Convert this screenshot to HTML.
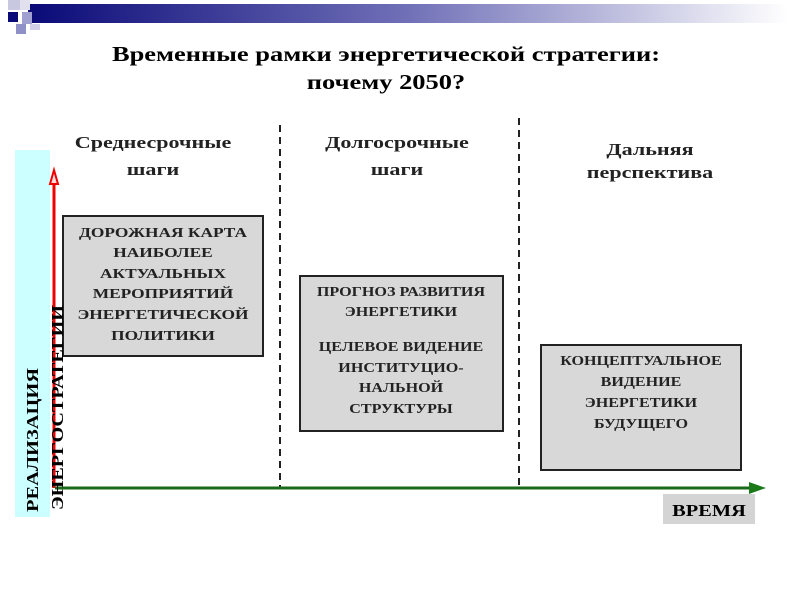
<!DOCTYPE html>
<html><head><meta charset="utf-8"><style>
body{margin:0;width:800px;height:600px;background:#fff;overflow:hidden}
</style></head><body>
<svg width="800" height="600" xmlns="http://www.w3.org/2000/svg" font-family="Liberation Serif, serif" font-weight="bold">
<defs><linearGradient id="g" x1="0" x2="1"><stop offset="0" stop-color="#0a0a78"/><stop offset="0.5" stop-color="#7070b8"/><stop offset="1" stop-color="#ffffff"/></linearGradient></defs>
<rect x="28" y="4" width="760" height="19" fill="url(#g)"/>
<rect x="8" y="0" width="12" height="10" fill="#c8c8e0"/>
<rect x="20" y="0" width="10" height="10" fill="#e0e0ee"/>
<rect x="8" y="12" width="10" height="10" fill="#0a0a78"/>
<rect x="22" y="12" width="10" height="12" fill="#a0a0d0"/>
<rect x="16" y="24" width="10" height="10" fill="#9090c8"/>
<rect x="30" y="24" width="10" height="6" fill="#d0d0e8"/>
<g transform="translate(386,0) scale(1.26,1) translate(-386,0)">
<text x="386" y="61" font-size="21" text-anchor="middle">Временные рамки энергетической стратегии:</text>
<text x="386" y="89" font-size="21" text-anchor="middle">почему 2050?</text>
</g>
<g font-size="17" text-anchor="middle" fill="#222">
<g transform="translate(153,0) scale(1.3,1) translate(-153,0)"><text x="153" y="148">Среднесрочные</text><text x="153" y="175">шаги</text></g>
<g transform="translate(397,0) scale(1.3,1) translate(-397,0)"><text x="397" y="148">Долгосрочные</text><text x="397" y="175">шаги</text></g>
<g transform="translate(650,0) scale(1.3,1) translate(-650,0)"><text x="650" y="155">Дальняя</text><text x="650" y="178">перспектива</text></g>
</g>
<rect x="15" y="150" width="35" height="367" fill="#ccffff"/>
<line x1="280" y1="125" x2="280" y2="488" stroke="#222" stroke-width="2" stroke-dasharray="7,5"/>
<line x1="519" y1="118" x2="519" y2="488" stroke="#222" stroke-width="2" stroke-dasharray="7,5"/>
<line x1="54" y1="488" x2="54" y2="180" stroke="#e00" stroke-width="3"/>
<polygon points="54,170 50,184 58,184" fill="#fdd" stroke="#e00" stroke-width="2"/>
<line x1="55" y1="488" x2="752" y2="488" stroke="#1a6a1a" stroke-width="3"/>
<polygon points="766,488 749,482 749,494" fill="#1a7a1a"/>
<g stroke="#222" stroke-width="2" fill="#d8d8d8">
<rect x="63" y="216" width="200" height="140"/>
<rect x="300" y="276" width="203" height="155"/>
<rect x="541" y="345" width="200" height="125"/>
</g>
<rect x="663" y="494" width="92" height="30" fill="#d4d4d4"/>
<text x="709" y="516" font-size="17" text-anchor="middle" transform="translate(709,0) scale(1.2,1) translate(-709,0)">ВРЕМЯ</text>
<g font-size="14" text-anchor="middle" fill="#222">
<g transform="translate(163,0) scale(1.24,1) translate(-163,0)">
<text x="163" y="237">ДОРОЖНАЯ КАРТА</text>
<text x="163" y="257">НАИБОЛЕЕ</text>
<text x="163" y="278">АКТУАЛЬНЫХ</text>
<text x="163" y="298">МЕРОПРИЯТИЙ</text>
<text x="163" y="319">ЭНЕРГЕТИЧЕСКОЙ</text>
<text x="163" y="340">ПОЛИТИКИ</text>
</g>
<g transform="translate(401,0) scale(1.15,1) translate(-401,0)">
<text x="401" y="296">ПРОГНОЗ РАЗВИТИЯ</text>
<text x="401" y="316">ЭНЕРГЕТИКИ</text>
<text x="401" y="351">ЦЕЛЕВОЕ ВИДЕНИЕ</text>
<text x="401" y="372">ИНСТИТУЦИО-</text>
<text x="401" y="392">НАЛЬНОЙ</text>
<text x="401" y="413">СТРУКТУРЫ</text>
</g>
<g transform="translate(641,0) scale(1.15,1) translate(-641,0)">
<text x="641" y="365">КОНЦЕПТУАЛЬНОЕ</text>
<text x="641" y="386">ВИДЕНИЕ</text>
<text x="641" y="407">ЭНЕРГЕТИКИ</text>
<text x="641" y="428">БУДУЩЕГО</text>
</g>
</g>
<text transform="translate(38,512) rotate(-90)" font-size="17" textLength="144" lengthAdjust="spacingAndGlyphs">РЕАЛИЗАЦИЯ</text>
<text transform="translate(63,510) rotate(-90)" font-size="17" textLength="205" lengthAdjust="spacingAndGlyphs">ЭНЕРГОСТРАТЕГИИ</text>
</svg>
</body></html>
